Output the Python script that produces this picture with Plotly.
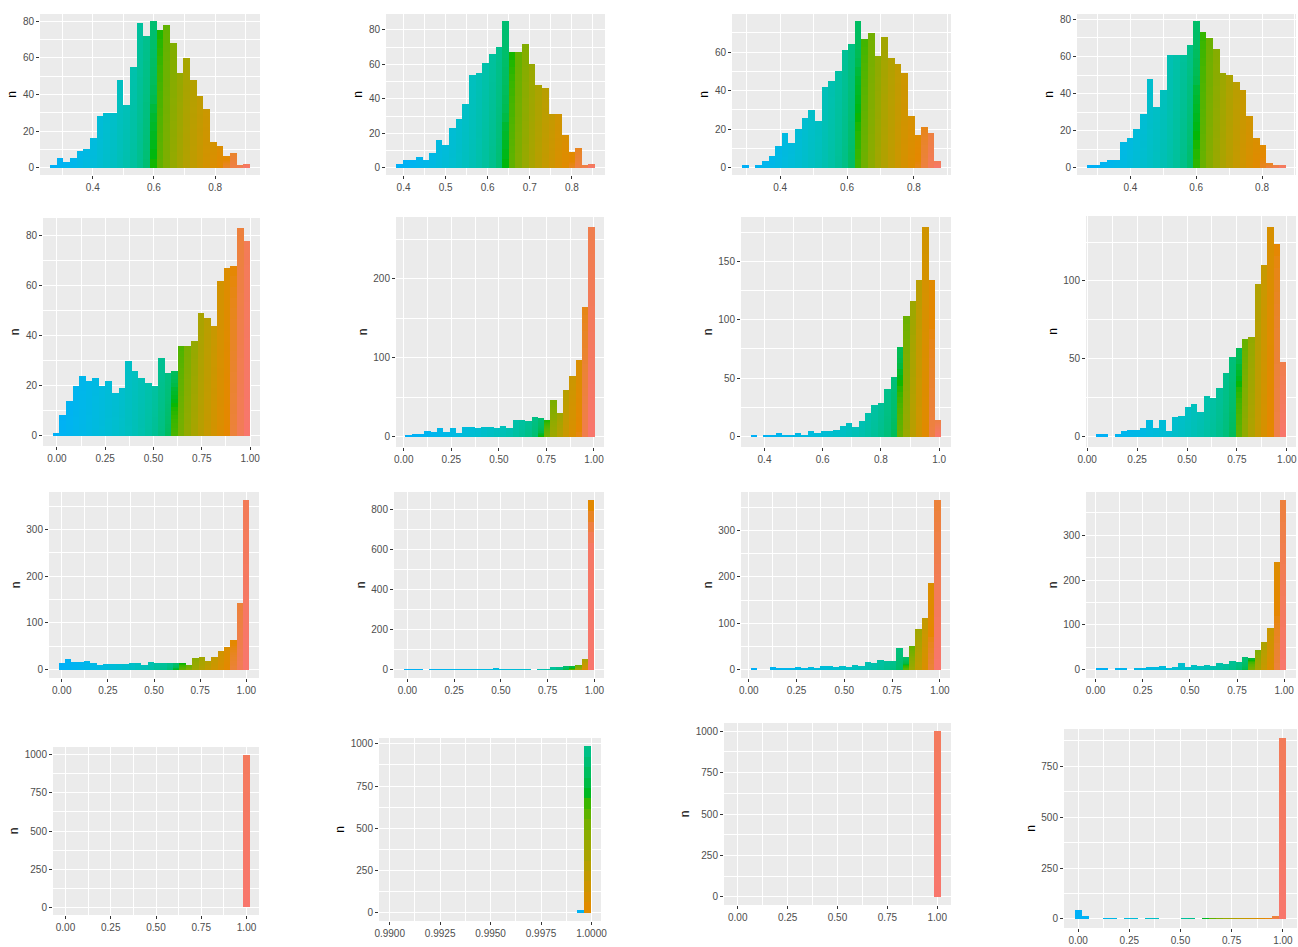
import math
import numpy as np
import plotly.graph_objects as go

# ---------------- data (bin range + counts per panel, 30 bins each) ----------------
p01_bins = (0.260, 0.914)
p01_n = [1, 5, 3, 5, 9, 10, 16, 28, 30, 30, 48, 34, 55, 79, 72, 80, 75, 78, 68, 52, 60, 48, 39, 32, 14, 12, 6, 8, 1, 2]
p02_bins = (0.382, 0.855)
p02_n = [2, 4, 4, 6, 4, 8, 16, 13, 23, 28, 37, 54, 55, 61, 66, 70, 85, 67, 67, 72, 60, 48, 46, 31, 31, 19, 9, 11, 1, 2]
p03_bins = (0.286, 0.881)
p03_n = [1, 0, 1, 3, 6, 11, 18, 13, 20, 26, 30, 24, 42, 45, 50, 61, 64, 76, 67, 70, 58, 68, 57, 54, 49, 27, 17, 21, 18, 3]
p04_bins = (0.268, 0.873)
p04_n = [1, 1, 3, 4, 4, 14, 16, 21, 29, 48, 33, 42, 61, 61, 61, 66, 79, 73, 70, 64, 51, 50, 46, 42, 28, 16, 12, 2, 1, 1]

p05_bins = (-0.0207, 1.0)
p05_n = [1, 8, 14, 20, 24, 22, 23, 20, 22, 17, 19, 30, 26, 23, 21, 20, 31, 25, 26, 36, 36, 38, 49, 47, 44, 62, 67, 68, 83, 78]
p06_bins = (0.009, 1.003)
p06_n = [1, 2, 3, 6, 5, 10, 5, 10, 4, 12, 11, 10, 12, 12, 10, 13, 10, 21, 21, 19, 25, 23, 21, 46, 30, 59, 77, 97, 164, 265]
p07_bins = (0.352, 1.008)
p07_n = [1, 0, 1, 1, 3, 1, 1, 3, 1, 4, 3, 4, 4, 5, 9, 11, 8, 13, 20, 27, 29, 41, 51, 77, 103, 116, 134, 179, 134, 14]
p08_bins = (0.042, 0.998)
p08_n = [1, 1, 0, 1, 3, 4, 4, 5, 10, 5, 10, 3, 12, 13, 19, 21, 16, 26, 25, 31, 41, 51, 57, 63, 64, 98, 110, 135, 124, 48]

p09_bins = (-0.0172, 1.0172)
p09_n = [13, 21, 16, 16, 18, 13, 9, 11, 11, 10, 10, 12, 12, 9, 16, 14, 12, 12, 14, 13, 9, 23, 25, 18, 26, 38, 48, 63, 143, 362]
p10_bins = (-0.0207, 1.0)
p10_n = [2, 2, 2, 0, 2, 2, 2, 2, 2, 2, 2, 2, 2, 2, 7, 2, 2, 2, 2, 2, 0, 2, 2, 8, 8, 15, 15, 22, 48, 845]
p11_bins = (0.009, 1.003)
p11_n = [2, 0, 0, 4, 2, 2, 2, 4, 2, 5, 3, 6, 7, 4, 6, 4, 8, 6, 16, 13, 19, 17, 17, 46, 27, 50, 88, 111, 187, 365]
p12_bins = (0.0, 1.012)
p12_n = [2, 2, 0, 2, 2, 0, 2, 2, 4, 5, 7, 2, 4, 14, 4, 8, 7, 8, 7, 14, 11, 19, 16, 27, 25, 44, 61, 92, 240, 378]

p13_bins = (-0.0172, 1.0172)
p13_n = [0] * 29 + [1000]
p14_bins = (0.98997, 0.99997)
p14_n = [0] * 28 + [15, 985]
p15_bins = (-0.0172, 1.0172)
p15_n = [0] * 29 + [1000]
p16_bins = (-0.0172, 1.0172)
p16_n = [43, 10, 0, 0, 2, 2, 0, 2, 2, 0, 2, 2, 0, 0, 0, 2, 2, 0, 2, 2, 2, 2, 2, 2, 2, 2, 2, 3, 10, 889]

PANELS = [
    (p01_bins, p01_n), (p02_bins, p02_n), (p03_bins, p03_n), (p04_bins, p04_n),
    (p05_bins, p05_n), (p06_bins, p06_n), (p07_bins, p07_n), (p08_bins, p08_n),
    (p09_bins, p09_n), (p10_bins, p10_n), (p11_bins, p11_n), (p12_bins, p12_n),
    (p13_bins, p13_n), (p14_bins, p14_n), (p15_bins, p15_n), (p16_bins, p16_n),
]

# ---------------- styles / layout ----------------
W, H = 1298, 947
BOX = [  # plot-area pixel box: left, right, top, bottom
    (40, 260, 14, 175), (386, 605, 14, 175), (732, 951, 14, 175), (1077, 1296, 14, 175),
    (43, 260, 218, 446), (396, 604, 217, 447), (741, 951, 217, 447), (1086, 1296, 216, 447),
    (49, 259, 492, 678), (394, 604, 492, 678), (741, 950, 492, 678), (1086, 1296, 492, 678),
    (53, 259, 747, 915), (379, 601, 738, 921), (724, 951, 723, 905), (1064, 1297, 729, 928),
]
PIVOT = [0.60, 0.645, 0.63, 0.60, 0.60, 0.73, 0.86, 0.75, 0.63, 0.87, 0.82, 0.81, 0.5, None, 0.5, 0.6]
HUE_STOPS = {
    9: [(-0.0207, 232), (0.60, 205), (0.80, 165), (0.87, 135), (0.93, 85), (0.966, 45), (0.975, 18), (1.0, 15)],
    13: [(0.98997, 232), (0.99961, 228), (0.99964, 165), (0.99997, 40)],
}
XT = [(0.4, 0.2, ".1f"), (0.4, 0.1, ".1f"), (0.4, 0.2, ".1f"), (0.4, 0.2, ".1f"),
      (0, 0.25, ".2f"), (0, 0.25, ".2f"), (0.4, 0.2, ".1f"), (0, 0.25, ".2f"),
      (0, 0.25, ".2f"), (0, 0.25, ".2f"), (0, 0.25, ".2f"), (0, 0.25, ".2f"),
      (0, 0.25, ".2f"), (0.99, 0.0025, ".4f"), (0, 0.25, ".2f"), (0, 0.25, ".2f")]
YT = [20, 20, 20, 20, 20, 100, 50, 50, 100, 200, 100, 100, 250, 250, 250, 250]
NSEG = 16


def hcl_hex(h, c=100.0, l=65.0):
    hr = math.radians(h)
    U, V = c * math.cos(hr), c * math.sin(hr)
    Xn, Yn, Zn = 95.047, 100.0, 108.883
    d = Xn + 15 * Yn + 3 * Zn
    un, vn = 4 * Xn / d, 9 * Yn / d
    Y = Yn * ((l + 16) / 116) ** 3
    u = U / (13 * l) + un
    v = V / (13 * l) + vn
    X = 9 * Y * u / (4 * v)
    Z = 3 * Y / v - X / 3 - 5 * Y
    X, Y, Z = X / 100, Y / 100, Z / 100
    rgb = [3.240479 * X - 1.537150 * Y - 0.498535 * Z,
           -0.969256 * X + 1.875992 * Y + 0.041556 * Z,
           0.055648 * X - 0.204043 * Y + 1.057311 * Z]
    out = []
    for ch in rgb:
        ch = 12.92 * ch if ch <= 0.0031308 else 1.055 * ch ** (1 / 2.4) - 0.055
        out.append(int(round(min(max(ch, 0), 1) * 255)))
    return "#%02X%02X%02X" % tuple(out)


def hue_at(x, lo, hi, pivot, stops=None):
    if stops is not None:
        xs, hs = zip(*stops)
        return float(np.interp(x, xs, hs))
    if x <= pivot:
        t = min(max((x - lo) / (pivot - lo), 0), 1)
        return 135 + 97 * (1 - t) ** 0.5
    t = min(max((x - pivot) / (hi - pivot), 0), 1)
    return 135 - 120 * t ** 0.75


fig = go.Figure()
layout = dict(width=W, height=H, margin=dict(l=0, r=0, t=0, b=0, autoexpand=False),
              paper_bgcolor="white", plot_bgcolor="#EBEBEB", barmode="stack",
              bargap=0, showlegend=False,
              font=dict(family="Liberation Sans, Arial, sans-serif", size=10, color="#4D4D4D"))

for i, ((lo, hi), counts) in enumerate(PANELS):
    k = i + 1
    sfx = "" if k == 1 else str(k)
    counts = np.array(counts, dtype=float)
    nb = len(counts)
    w = (hi - lo) / nb
    left = lo + w * np.arange(nb)
    centers = left + w / 2
    stops = HUE_STOPS.get(i)
    for j in range(NSEG):
        xpos = left + w - (j + 0.5) / NSEG * w
        cols = [hcl_hex(hue_at(xv, lo, hi, PIVOT[i], stops)) for xv in xpos]
        fig.add_trace(go.Bar(x=centers, y=counts / NSEG, width=w, marker=dict(color=cols, line=dict(width=0)),
                             xaxis="x" + sfx, yaxis="y" + sfx, hoverinfo="skip"))
    l, r, t, b = BOX[i]
    span = hi - lo
    M = counts.max()
    t0, dt, fmt = XT[i]
    layout["xaxis" + sfx] = dict(
        domain=[l / W, r / W], anchor="y" + sfx, range=[lo - 0.05 * span, hi + 0.05 * span],
        automargin=False,
        tickmode="linear", tick0=t0, dtick=dt, tickformat=fmt,
        showgrid=True, gridcolor="white", gridwidth=1.1, zeroline=False,
        ticks="outside", ticklen=3, tickcolor="#333333", tickwidth=1,
        tickfont=dict(size=10, color="#4D4D4D"), showline=False,
        minor=dict(tick0=t0, dtick=dt / 2, showgrid=True, gridcolor="white", gridwidth=0.5, ticks=""),
    )
    layout["yaxis" + sfx] = dict(
        domain=[1 - b / H, 1 - t / H], anchor="x" + sfx, range=[-0.05 * M, 1.05 * M],
        automargin=False,
        tickmode="linear", tick0=0, dtick=YT[i],
        showgrid=True, gridcolor="white", gridwidth=1.1, zeroline=False,
        ticks="outside", ticklen=3, tickcolor="#333333", tickwidth=1,
        tickfont=dict(size=10, color="#4D4D4D"), showline=False,
        minor=dict(tick0=0, dtick=YT[i] / 2, showgrid=True, gridcolor="white", gridwidth=0.5, ticks=""),
        title=dict(text="n", standoff=3, font=dict(size=12, color="#000000")),
    )

fig.update_layout(**layout)
fig.write_html("out.html", config={"displayModeBar": False},
               post_script="document.body.style.margin='0px';document.body.style.overflow='hidden';")
